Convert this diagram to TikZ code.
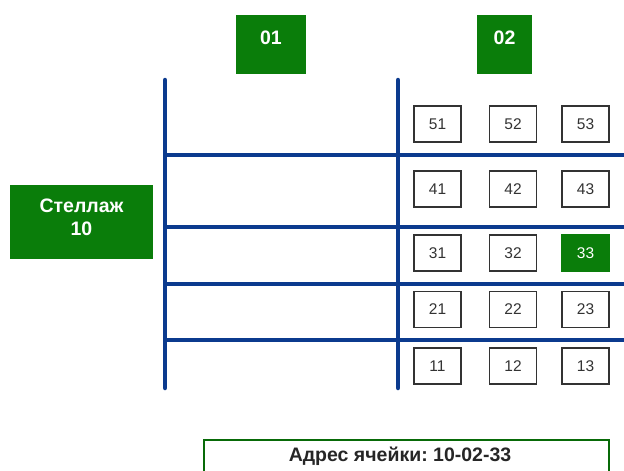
\documentclass[tikz,border=0pt]{standalone}
\usepackage{fontspec}
\setmainfont{Liberation Sans}
\frenchspacing
\definecolor{rackgreen}{HTML}{0A7D0A}
\definecolor{beamblue}{HTML}{0B3A8E}
\definecolor{cellgray}{HTML}{333333}
\begin{document}
\begin{tikzpicture}[x=1pt,y=-1pt,
  greenbox/.style={fill=rackgreen,draw=none,inner sep=0pt,anchor=north west},
  labeltext/.style={text=white,font=\bfseries\fontsize{19.5}{23}\selectfont,inner sep=0pt},
  beam/.style={draw=beamblue,line width=4.5pt},
  cellbox/.style={draw=cellgray,line width=1.8pt,fill=white,minimum width=47pt,minimum height=36pt,inner sep=0pt,text=cellgray,font=\fontsize{15.5}{17}\selectfont},
  hotcell/.style={cellbox,fill=rackgreen,draw=rackgreen,text=white},
  addrbox/.style={draw=rackgreen!85!black,line width=2pt,fill=white,inner sep=0pt,anchor=north west}
]
\useasboundingbox (0,0) rectangle (624,471);

% section labels
\node[greenbox,minimum width=70pt,minimum height=59pt] (s01) at (236,15) {};
\node[labeltext] (t01) at (271,38) {01};
\node[greenbox,minimum width=55pt,minimum height=59pt] (s02) at (477,15) {};
\node[labeltext] (t02) at (504.5,38) {02};

% rack label
\node[greenbox,minimum width=143pt,minimum height=74pt] (rack) at (10,185) {};
\node[labeltext,align=center] (racktext) at (81.5,217) {Стеллаж\\10};

% frame of the rack
\coordinate (lt) at (165,80);
\coordinate (lb) at (165,388);
\coordinate (mt) at (398,80);
\coordinate (mb) at (398,388);
\draw[beam,line cap=round] (lt) -- (lb);
\draw[beam,line cap=round] (mt) -- (mb);
\foreach \yy [count=\i] in {155,227,284,340} {
  \coordinate (hl\i) at (165,\yy);
  \coordinate (hr\i) at (624,\yy);
  \draw[beam] (hl\i) -- (hr\i);
}

% storage cells
\foreach \lev/\yy in {5/124,4/189,3/253,2/309.5,1/366} {
  \foreach \col/\xx in {1/437.5,2/513,3/585.5} {
    \ifnum\lev\col=33
      \node[hotcell] (c\lev\col) at (\xx,\yy) {\lev\col};
    \else
      \node[cellbox] (c\lev\col) at (\xx,\yy) {\lev\col};
    \fi
  }
}

% address caption
\node[addrbox,minimum width=405pt,minimum height=45pt] (addr) at (203,439) {};
\node[font=\bfseries\fontsize{19.5}{21}\selectfont,text=black!85,inner sep=0pt] (addrtext) at (400,456) {Адрес ячейки: 10-02-33};
\end{tikzpicture}
\end{document}
